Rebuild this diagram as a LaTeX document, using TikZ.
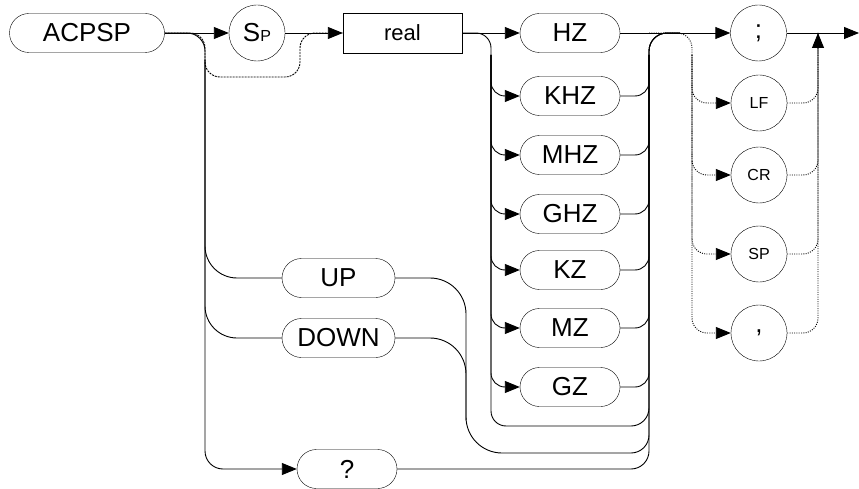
\documentclass[tikz,border=0pt]{standalone}
\usepackage{fontspec}
\setmainfont{Liberation Sans}
\usetikzlibrary{arrows.meta,shapes.misc}

\begin{document}
\begin{tikzpicture}[
        x=1pt, y=-1pt,
        kw/.style={draw, rounded rectangle, minimum height=39pt, inner sep=0pt, font=\fontsize{26pt}{30pt}\selectfont},
        unitbox/.style={kw, minimum width=100pt},
        term/.style={draw, circle, minimum size=56pt, inner sep=0pt, font=\fontsize{26pt}{30pt}\selectfont},
        smalltext/.style={font=\fontsize{16pt}{18pt}\selectfont},
        link/.style={line width=0.9pt, rounded corners=18pt},
        arr/.style={-{Triangle[length=15pt,width=12pt]}},
        optline/.style={dash pattern=on 2pt off 1pt},
        dotline/.style={dash pattern=on 1pt off 1.3pt}
    ]
        \useasboundingbox (0,0) rectangle (859,489);

        \node[kw, minimum width=155pt] (acpsp) at (87,33) {ACPSP};
        \node[term] (sp) at (257,33) {S{\fontsize{16pt}{18pt}\selectfont P}};
        \node[draw, minimum width=119pt, minimum height=40pt, font=\fontsize{22pt}{26pt}\selectfont] (real) at (402.5,33) {real};

        \node[unitbox] (hz) at (570,33) {HZ};
        \node[unitbox] (khz) at (570,96) {KHZ};
        \node[unitbox] (mhz) at (570,155) {MHZ};
        \node[unitbox] (ghz) at (570,214) {GHZ};
        \node[unitbox] (kz) at (570,270) {KZ};
        \node[unitbox] (mz) at (570,328) {MZ};
        \node[unitbox] (gz) at (570,387) {GZ};

        \node[kw, minimum width=113pt] (up) at (338.5,278) {UP};
        \node[kw, minimum width=113pt] (down) at (338.5,338) {DOWN};
        \node[kw, minimum width=100pt] (qm) at (347,469) {?};

        \node[term] (semi) at (758.5,33) {;};
        \node[term, smalltext] (lf) at (759,103) {LF};
        \node[term, smalltext] (cr) at (759,175) {CR};
        \node[term, smalltext] (spc) at (759,254) {SP};
        \node[term] (comma) at (759,333) {,};

        \coordinate (lbus) at (205,33);
        \coordinate (lmid) at (205,60);
        \coordinate (ubus) at (491,33);
        \coordinate (umid) at (491,55);
        \coordinate (rbus) at (649,33);
        \coordinate (rmid) at (649,55);
        \coordinate (rjoin) at (680,33);
        \coordinate (dbus) at (692,33);
        \coordinate (dmid) at (692,55);
        \coordinate (ebus) at (818,33);
        \coordinate (fin) at (859,33);

        \draw[link, arr] (acpsp.east) -- (sp.west);
        \draw[link, arr] (sp.east) -- (real.west);
        \draw[link, optline, rounded corners=15pt] (acpsp.east) -- (lbus) -- (205,77) -- (300,77) -- (300,33) -- (real.west);
        \draw[link, arr] (acpsp.east) -- (lbus) |- (qm.west);
        \draw[link, rounded corners=32pt] (lmid) |- (up.west);
        \draw[link, rounded corners=32pt] (lmid) |- (down.west);

        \draw[link, arr] (real.east) -- (hz.west);
        \draw[link, arr] (hz.east) -- (semi.west);
        \draw[link, rounded corners=15pt] (real.east) -- (ubus) -- (491,426) [rounded corners=18pt] -- (649,426) -- (rbus) -- (rjoin);
        \foreach \u in {khz,mhz,ghz,kz,mz,gz} {
            \draw[link, arr, rounded corners=14pt] (umid) |- (\u.west);
            \draw[link, rounded corners=14pt] (\u.east) -| (rmid);
        }

        \draw[link, rounded corners=36pt] (up.east) -- (466,278) -- (466,453) [rounded corners=18pt] -- (649,453) -- (rbus) -- (rjoin);
        \draw[link, rounded corners=36pt] (down.east) -| (466,420);
        \draw[link] (qm.east) -| (rbus) -- (rjoin);

        \draw[link, arr] (semi.east) -- (fin);
        \draw[link, dotline, arr, rounded corners=15pt] (rbus) -- (dbus) |- (comma.west);
        \foreach \c in {lf,cr,spc} {
            \draw[link, dotline, arr, rounded corners=15pt] (dmid) |- (\c.west);
            \draw[link, dotline, rounded corners=15pt] (\c.east) -| (ebus);
        }
        \draw[link, dotline, arr, rounded corners=15pt] (comma.east) -| (ebus);
    \end{tikzpicture}
\end{document}
